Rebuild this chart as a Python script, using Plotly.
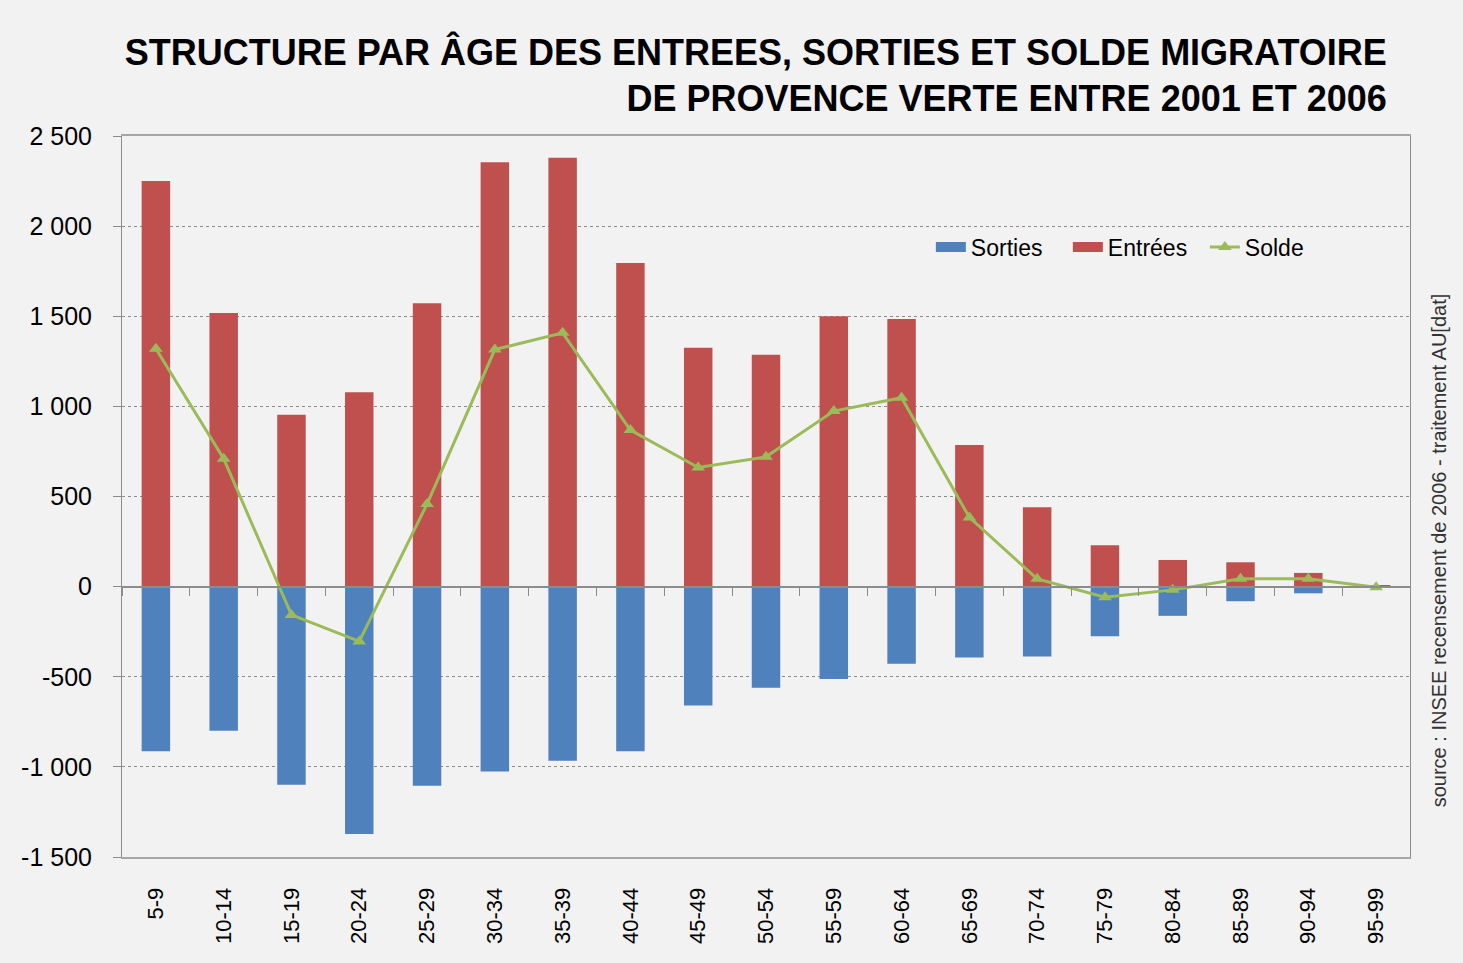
import plotly.graph_objects as go

# tranches d'âge
ages = ["5-9", "10-14", "15-19", "20-24", "25-29", "30-34", "35-39", "40-44",
        "45-49", "50-54", "55-59", "60-64", "65-69", "70-74", "75-79", "80-84",
        "85-89", "90-94", "95-99"]

sorties = [-913, -800, -1099, -1372, -1105, -1025, -966, -913, -660, -561,
           -512, -428, -393, -387, -275, -162, -81, -37, -3]
entrees = [2250, 1518, 954, 1079, 1572, 2354, 2380, 1795, 1325, 1286,
           1500, 1485, 786, 441, 229, 148, 135, 76, 8]
solde = [1320, 710, -157, -304, 458, 1315, 1408, 869, 661, 720,
         974, 1048, 384, 43, -59, -18, 43, 43, -3]

y_ticks = [-1500, -1000, -500, 0, 500, 1000, 1500, 2000, 2500]
y_labels = ["-1 500", "-1 000", "-500", "0", "500", "1 000", "1 500", "2 000", "2 500"]

BG = "#f2f2f2"
BLUE, RED, GREEN = "#4f81bd", "#c0504d", "#9bbb59"
FONT = "Liberation Sans, Arial"

fig = go.Figure()
fig.add_trace(go.Bar(x=ages, y=sorties, name="Sorties", marker_color=BLUE,
                     marker_line_width=0, showlegend=False))
fig.add_trace(go.Bar(x=ages, y=entrees, name="Entrées", marker_color=RED,
                     marker_line_width=0, showlegend=False))
fig.add_trace(go.Scatter(x=ages, y=solde, name="Solde", mode="lines+markers",
                         line=dict(color=GREEN, width=3),
                         marker=dict(symbol="triangle-up", size=12, color=GREEN),
                         showlegend=False))
# entrées de légende (rectangles larges comme dans Excel)
fig.add_trace(go.Scatter(x=[None], y=[None], name="Sorties", mode="lines",
                         line=dict(color=BLUE, width=14)))
fig.add_trace(go.Scatter(x=[None], y=[None], name="Entrées", mode="lines",
                         line=dict(color=RED, width=14)))
fig.add_trace(go.Scatter(x=[None], y=[None], name="Solde", mode="lines+markers",
                         line=dict(color=GREEN, width=3),
                         marker=dict(symbol="triangle-up", size=12, color=GREEN)))
# axe horizontal au niveau de zéro (graduations entre catégories)
fig.add_trace(go.Scatter(x=ages, y=[None] * len(ages), xaxis="x2",
                         showlegend=False, hoverinfo="skip"))

x_range = [-0.5, len(ages) - 0.5]

fig.update_layout(
    width=1463, height=963,
    paper_bgcolor=BG, plot_bgcolor=BG,
    barmode="relative", bargap=0.58,
    font=dict(family=FONT, color="#000000"),
    margin=dict(l=122, r=53, t=136, b=106, autoexpand=False),
    title=dict(
        text="STRUCTURE PAR ÂGE DES ENTREES, SORTIES ET SOLDE MIGRATOIRE<br>"
             "DE PROVENCE VERTE ENTRE 2001 ET 2006",
        x=0.982, xanchor="right", xref="paper", y=0.933, yanchor="top",
        font=dict(family=FONT, size=36, color="#000000", weight="bold"),
    ),
    legend=dict(orientation="h", x=0.628, y=0.846, xanchor="left", yanchor="middle",
                font=dict(size=23), bgcolor="rgba(0,0,0,0)", traceorder="normal",
                itemwidth=30, entrywidth=92, entrywidthmode="pixels"),
    showlegend=True,
)
fig.update_yaxes(range=[-1500, 2500], tickvals=y_ticks, ticktext=y_labels,
                 tickfont=dict(size=25), showgrid=True, gridcolor="#8c8c8c",
                 griddash="dot", gridwidth=1, zeroline=False,
                 showline=True, linecolor="#8c8c8c", mirror=True,
                 ticks="outside", ticklen=8, tickcolor="#8c8c8c",
                 ticklabelstandoff=16)
fig.update_xaxes(range=x_range, showline=True, linecolor="#a6a6a6", linewidth=2,
                 mirror=True, tickangle=-90, tickfont=dict(size=22), ticks="",
                 ticklabelstandoff=20)
fig.update_layout(xaxis2=dict(overlaying="x", range=x_range, anchor="free", position=0.375,
                              showline=True, linecolor="#8c8c8c", linewidth=2,
                              ticks="outside", tickson="boundaries", ticklen=8,
                              tickcolor="#8c8c8c", showticklabels=False, showgrid=False))

fig.add_annotation(text="source : INSEE recensement de 2006 - traitement AU[dat]",
                   xref="paper", yref="paper", x=1.012, y=0.426, textangle=-90,
                   showarrow=False, xanchor="left", yanchor="middle",
                   font=dict(family=FONT, size=20, color="#333333"))

fig.write_html("out.html", config={"displayModeBar": False},
               post_script="document.body.style.margin='0';")
